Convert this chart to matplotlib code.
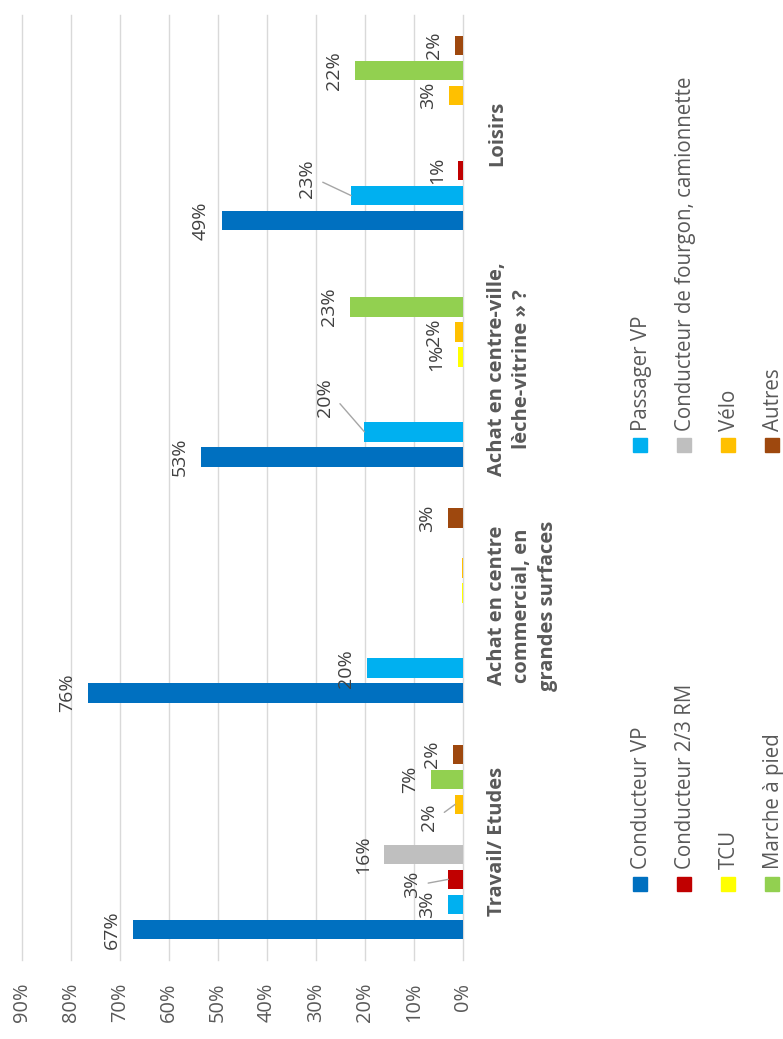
import matplotlib
matplotlib.use('Agg')
import matplotlib.pyplot as plt
import matplotlib.transforms as mtransforms
from matplotlib.patches import Rectangle

plt.rcParams['font.family'] = ['Open Sans', 'DejaVu Sans']

categories = ["Travail/ Etudes",
              "Achat en centre\ncommercial, en\ngrandes surfaces",
              "Achat en centre-ville,\nlèche-vitrine » ?",
              "Loisirs"]
series_names = ["Conducteur VP", "Passager VP", "Conducteur 2/3 RM",
                "Conducteur de fourgon, camionnette", "TCU", "Vélo",
                "Marche à pied", "Autres"]
conducteur_vp = [67.3, 76.4, 53.4, 49.2]
passager_vp = [3.0, 19.6, 20.1, 22.8]
conducteur_2rm = [3.0, 0, 0, 1.0]
fourgon = [16.1, 0, 0, 0]
tcu = [0, 0.15, 1.1, 0]
velo = [1.6, 0.15, 1.6, 2.9]
marche = [6.6, 0, 23.1, 22.0]
autres = [2.0, 3.0, 0, 1.7]
ticks = [0, 10, 20, 30, 40, 50, 60, 70, 80, 90]

all_series = [conducteur_vp, passager_vp, conducteur_2rm, fourgon, tcu, velo, marche, autres]
colors = ['#0070c0', '#00b0f0', '#c00000', '#bfbfbf', '#ffff00', '#ffc000', '#92d050', '#9e480e']

W, H = 783, 1039
fig = plt.figure(figsize=(W/100, H/100), dpi=100)
ax = fig.add_axes([21.7/W, 1-960/H, (463-21.7)/W, 945/H])

step = 25/236.25
bar_h = 19.3/236.25

# labels moved by hand in the original (offset in pixels)
moved = {(0, 2): (-15, -5), (0, 5): (-5, -12.5), (2, 1): (-18, 34.5), (3, 1): (-23, 16.5)}

for i, vals in enumerate(all_series):
    pos = [c + (i-3.5)*step for c in range(len(categories))]
    ax.barh(pos, vals, height=bar_h, color=colors[i], zorder=2)
    for c, (p, v) in enumerate(zip(pos, vals)):
        if v < 0.5:
            continue
        dx, dy = moved.get((c, i), (0, 0))
        if (c, i) in moved:
            ax.annotate(f"{v:.0f}%", xy=(v, p), xytext=(-12+dx, dy),
                        textcoords='offset pixels', rotation=90, ha='right', va='center',
                        fontsize=14, color='#404040',
                        arrowprops=dict(arrowstyle='-', color='#a6a6a6', lw=1,
                                        relpos=(1, 0.5), shrinkA=3, shrinkB=0))
        else:
            ax.annotate(f"{v:.0f}%", xy=(v, p), xytext=(-12, 0),
                        textcoords='offset pixels', rotation=90, ha='right', va='center',
                        fontsize=14, color='#404040')

ax.set_xlim(90, 0)
ax.set_ylim(-0.5, 3.5)
ax.set_xticks(ticks)
ax.set_xticklabels([f"{t}%" for t in ticks], rotation=90)
ax.tick_params(axis='x', length=0, pad=16.5, labelsize=14.4, labelcolor='#595959')
ax.set_yticks([])
ax.xaxis.grid(True, color='#d9d9d9', lw=1)
ax.set_axisbelow(True)
for gl in ax.get_xgridlines():
    gl.set_clip_on(False)
for s in ax.spines.values():
    s.set_visible(False)

# category labels
trans = mtransforms.blended_transform_factory(fig.transFigure, ax.transData)
for c, cat in enumerate(categories):
    ax.text(487/W, c, cat, transform=trans, rotation=90, ha='left', va='center',
            multialignment='center', fontsize=14.5, fontweight='bold',
            color='#595959', linespacing=1.35)

# legend, drawn by hand because it is rotated
for k, (name, col) in enumerate(zip(series_names, colors)):
    row, colidx = k // 2, k % 2
    x0 = 633 + row*44
    ytop = 877 if colidx == 0 else 438
    ystart = 869 if colidx == 0 else 431
    fig.patches.append(Rectangle((x0/W, 1-(ytop+13.5)/H), 13.5/W, 13.5/H,
                                 transform=fig.transFigure, color=col, figure=fig))
    fig.text((x0+14)/W, 1-ystart/H, name, rotation=90, rotation_mode='anchor',
             ha='left', va='baseline', fontsize=14.8, color='#595959')

fig.savefig('out.png', dpi=100)
